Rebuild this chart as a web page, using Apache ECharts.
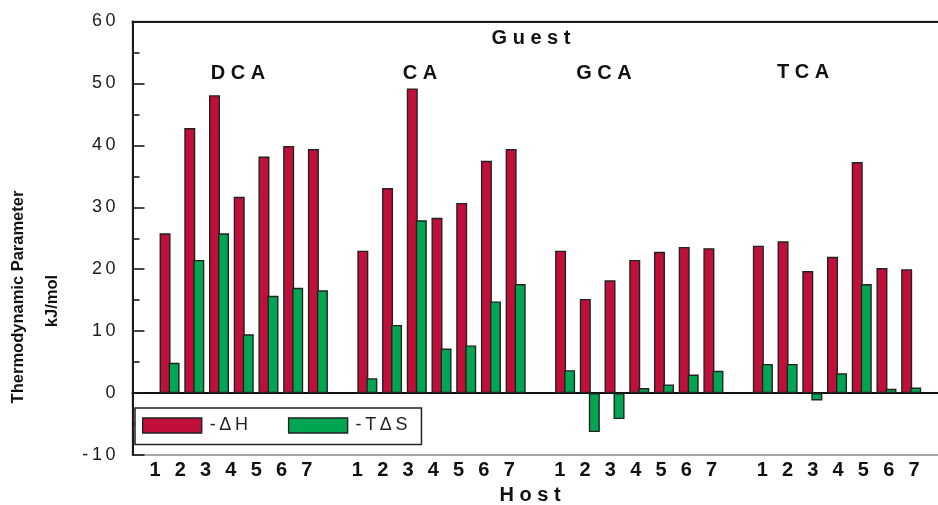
<!DOCTYPE html>
<html>
<head>
<meta charset="utf-8">
<script src="https://cdn.jsdelivr.net/npm/echarts@6/dist/echarts.min.js"></script>
<style>
  html, body { margin: 0; padding: 0; background: #fff; }
  #chart { width: 938px; height: 505px; }
</style>
</head>
<body>
<div id="chart"></div>
<script>
// Hosts 1-7 for each guest acid
const hosts = ['1', '2', '3', '4', '5', '6', '7'];
const guests = ['DCA', 'CA', 'GCA', 'TCA'];

// -ΔH (kJ/mol)
const dcaH = [25.8, 42.8, 48.1, 31.7, 38.2, 39.9, 39.4];
const caH  = [23.0, 33.1, 49.2, 28.3, 30.7, 37.5, 39.4];
const gcaH = [23.0, 15.2, 18.2, 21.5, 22.8, 23.6, 23.4];
const tcaH = [23.8, 24.5, 19.7, 22.0, 37.3, 20.2, 20.0];

// -TΔS (kJ/mol)
const dcaTS = [4.9, 21.5, 25.8, 9.5, 15.7, 17.0, 16.6];
const caTS  = [2.4, 11.0, 27.9, 7.2, 7.7, 14.8, 17.6];
const gcaTS = [3.7, -6.3, -4.2, 0.8, 1.4, 3.0, 3.6];
const tcaTS = [4.7, 4.7, -1.2, 3.2, 17.6, 0.7, 0.9];

// Value axis
const yMin = -10, yMax = 60, yStep = 10;

const seriesNames = ['-ΔH', '-TΔS'];

// Lay the four guest groups on one category axis, separated by empty slots
function padGroups(groups, filler) {
  const out = [filler];
  groups.forEach(g => { out.push(...g, filler); });
  return out;
}
const categories = padGroups([hosts, hosts, hosts, hosts], '');
const dataH = padGroups([dcaH, caH, gcaH, tcaH], null);
const dataTS = padGroups([dcaTS, caTS, gcaTS, tcaTS], null);

const FONT = '"Liberation Sans", Arial, Helvetica, sans-serif';
const RED = '#c0103a';
const GREEN = '#00a651';
const EDGE = '#222';

const nCat = categories.length;
const slotBars = 24.72;
const slotLabels = 25.3;
const plotTop = 21.5, plotH = 433.5;

const chart = echarts.init(document.getElementById('chart'), null, { renderer: 'canvas' });

const spaced = s => s.split('').join('\u2009');

const option = {
  backgroundColor: '#fff',
  animation: false,
  grid: [
    { left: 132.5, top: plotTop, width: nCat * slotBars, height: plotH,
      outerBoundsMode: 'none', containLabel: false,
      show: true, borderColor: '#8a8a8a', borderWidth: 1.5, backgroundColor: 'transparent' },
    { left: 155 - 1.5 * slotLabels, top: plotTop, width: nCat * slotLabels, height: plotH,
      outerBoundsMode: 'none', containLabel: false, show: false }
  ],
  xAxis: [
    { // bar axis, line drawn at zero
      type: 'category', gridIndex: 0, data: categories, boundaryGap: true,
      axisLine: { onZero: true, lineStyle: { color: '#111', width: 1.8 } },
      axisTick: { show: false }, axisLabel: { show: false }, splitLine: { show: false }
    },
    { // top frame line
      type: 'category', gridIndex: 0, position: 'top', data: categories,
      axisLine: { onZero: false, lineStyle: { color: '#1a1a1a', width: 2 } },
      axisTick: { show: false }, axisLabel: { show: false }
    },
    { // host tick labels
      type: 'category', gridIndex: 1, data: categories, boundaryGap: true,
      axisLine: { show: false }, axisTick: { show: false },
      axisLabel: { interval: 0, margin: 5, color: '#111', fontFamily: FONT,
                   fontWeight: 'bold', fontSize: 20 }
    }
  ],
  yAxis: [
    {
      type: 'value', gridIndex: 0, min: yMin, max: yMax, interval: yStep,
      axisLine: { show: true, lineStyle: { color: '#1a1a1a', width: 2 } },
      axisTick: { show: true, inside: true, length: 12, lineStyle: { color: '#1a1a1a', width: 1.6 } },
      minorTick: { show: true, splitNumber: 2, length: 7, lineStyle: { color: '#1a1a1a', width: 1.6 } },
      splitLine: { show: false },
      axisLabel: { margin: 17, color: '#1a1a1a', fontFamily: FONT, fontSize: 18,
                   formatter: v => spaced(String(v)) }
    },
    { type: 'value', gridIndex: 1, min: yMin, max: yMax, show: false }
  ],
  legend: {
    left: 135, top: 408, orient: 'horizontal',
    padding: [8.5, 14, 10, 7],
    itemWidth: 59, itemHeight: 15, itemGap: 40,
    backgroundColor: '#fff', borderColor: EDGE, borderWidth: 1.5,
    icon: 'rect',
    itemStyle: { borderColor: EDGE, borderWidth: 1.4 },
    textStyle: { fontFamily: FONT, fontSize: 18, color: '#222', padding: [0, 0, 0, 3] },
    formatter: name => spaced(name),
    data: seriesNames
  },
  series: [
    {
      name: seriesNames[0], type: 'bar', xAxisIndex: 0, yAxisIndex: 0,
      data: dataH, barWidth: 11, barGap: '-18%',
      itemStyle: { color: RED, borderColor: EDGE, borderWidth: 1.4 }
    },
    {
      name: seriesNames[1], type: 'bar', xAxisIndex: 0, yAxisIndex: 0,
      data: dataTS, barWidth: 11, barGap: '-18%',
      itemStyle: { color: GREEN, borderColor: EDGE, borderWidth: 1.4 }
    }
  ],
  graphic: [
    { type: 'text', x: 531, y: 38, style: { text: 'G u e s t', font: 'bold 20px ' + FONT, fill: '#111', align: 'center', verticalAlign: 'middle' } },
    { type: 'text', x: 238, y: 73, style: { text: guests[0].split('').join(' '), font: 'bold 20px ' + FONT, fill: '#111', align: 'center', verticalAlign: 'middle' } },
    { type: 'text', x: 420, y: 73, style: { text: guests[1].split('').join(' '), font: 'bold 20px ' + FONT, fill: '#111', align: 'center', verticalAlign: 'middle' } },
    { type: 'text', x: 604, y: 73, style: { text: guests[2].split('').join(' '), font: 'bold 20px ' + FONT, fill: '#111', align: 'center', verticalAlign: 'middle' } },
    { type: 'text', x: 803, y: 72, style: { text: guests[3].split('').join(' '), font: 'bold 20px ' + FONT, fill: '#111', align: 'center', verticalAlign: 'middle' } },
    { type: 'text', x: 530, y: 495, style: { text: 'H o s t', font: 'bold 20px ' + FONT, fill: '#111', align: 'center', verticalAlign: 'middle' } },
    { type: 'text', x: 18, y: 297, rotation: Math.PI / 2, style: { text: 'Thermodynamic Parameter', font: 'bold 16.5px ' + FONT, fill: '#111', align: 'center', verticalAlign: 'middle' } },
    { type: 'text', x: 52, y: 301, rotation: Math.PI / 2, style: { text: 'kJ/mol', font: 'bold 16.5px ' + FONT, fill: '#111', align: 'center', verticalAlign: 'middle' } }
  ]
};

chart.setOption(option);
</script>
</body>
</html>
